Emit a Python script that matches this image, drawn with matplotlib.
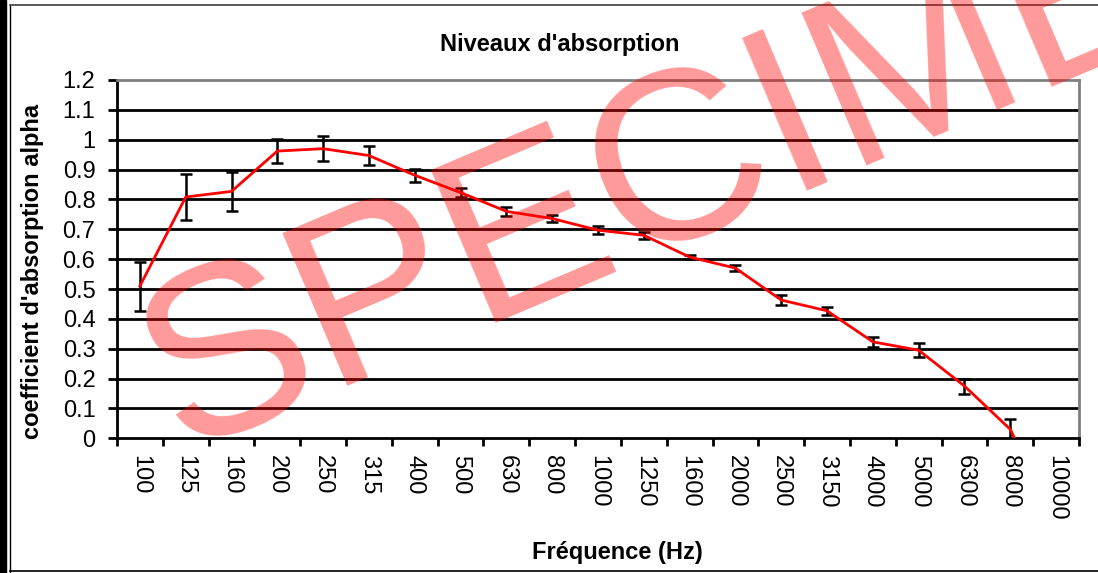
import matplotlib
matplotlib.use("Agg")
from matplotlib import pyplot as plt
from matplotlib.lines import Line2D
from matplotlib.patches import Rectangle

plt.rcParams['font.family'] = ['Liberation Sans', 'DejaVu Sans']

# data
freqs = ['100', '125', '160', '200', '250', '315', '400', '500', '630', '800', '1000',
         '1250', '1600', '2000', '2500', '3150', '4000', '5000', '6300', '8000', '10000']
alpha = [0.51, 0.808, 0.827, 0.962, 0.97, 0.947, 0.881, 0.823, 0.76, 0.736, 0.697,
         0.68, 0.607, 0.57, 0.463, 0.427, 0.323, 0.295, 0.175, 0.03, -0.29]
err = [0.082, 0.078, 0.065, 0.041, 0.042, 0.033, 0.022, 0.014, 0.014, 0.012, 0.013,
       0.012, 0.008, 0.01, 0.017, 0.013, 0.016, 0.023, 0.025, 0.036, 0.03]
yticks = [0, 0.1, 0.2, 0.3, 0.4, 0.5, 0.6, 0.7, 0.8, 0.9, 1, 1.1, 1.2]

fig = plt.figure(figsize=(10.98, 5.73), dpi=100)
ax = fig.add_axes([117/1098, 1-438.3/573, (1079-117)/1098, (438.3-80)/573])

x = list(range(len(freqs)))
ax.errorbar(x, alpha, yerr=err, fmt='none', ecolor='black', elinewidth=1.8,
            capsize=4, capthick=1.8, zorder=3)
ax.plot(x, alpha, color='red', lw=2, zorder=4)

ax.set_xlim(-0.5, len(freqs)-0.5)
ax.set_ylim(0, 1.2)

# gridlines
for v in yticks[1:-1]:
    ax.axhline(v, color='black', lw=2, zorder=1)

ax.set_yticks(yticks)
ax.set_yticklabels([('%g' % v) for v in yticks], fontsize=17)
ax.set_xticks(x)
ax.set_xticklabels(freqs, rotation=270, fontsize=17)
ax.set_xticks([i - 0.5 for i in range(len(freqs)+1)], minor=True)
ax.tick_params(axis='x', which='major', length=0, pad=12)
ax.tick_params(axis='x', which='minor', length=6, width=2, direction='out')
ax.tick_params(axis='y', length=6.5, width=2, direction='out', pad=9)

for s in ['left', 'bottom']:
    ax.spines[s].set_linewidth(2)
    ax.spines[s].set_color('black')
for s in ['top', 'right']:
    ax.spines[s].set_linewidth(2)
    ax.spines[s].set_color('#808080')

fig.text(560/1098, 1-44/573, "Niveaux d'absorption", fontsize=17, fontweight='bold',
         ha='center', va='center')
fig.text(617/1098, 1-553/573, "Fréquence (Hz)", fontsize=17, fontweight='bold',
         ha='center', va='center')
fig.text(33/1098, 1-271/573, "coefficient d'absorption alpha", fontsize=17,
         fontweight='bold', rotation=90, ha='center', va='center')

# frame around the chart
fig.patches.append(Rectangle((0, 0), 6/1098, 1, transform=fig.transFigure,
                             color='black', zorder=0))
fig.lines.append(Line2D([10/1098, 10/1098], [0, 1-5/573], transform=fig.transFigure,
                        color='black', lw=1))
fig.lines.append(Line2D([10/1098, 1], [1-5/573, 1-5/573], transform=fig.transFigure,
                        color='#404040', lw=1.2))
fig.lines.append(Line2D([10/1098, 1], [1-571/573, 1-571/573], transform=fig.transFigure,
                        color='black', lw=1.2))

# watermark
fig.text(180/1098, 1-452/573, 'SPECIMEN', fontsize=174, color='red', alpha=0.4,
         rotation=23, rotation_mode='anchor', ha='left', va='baseline', zorder=10)

fig.savefig('out.png', dpi=100)
